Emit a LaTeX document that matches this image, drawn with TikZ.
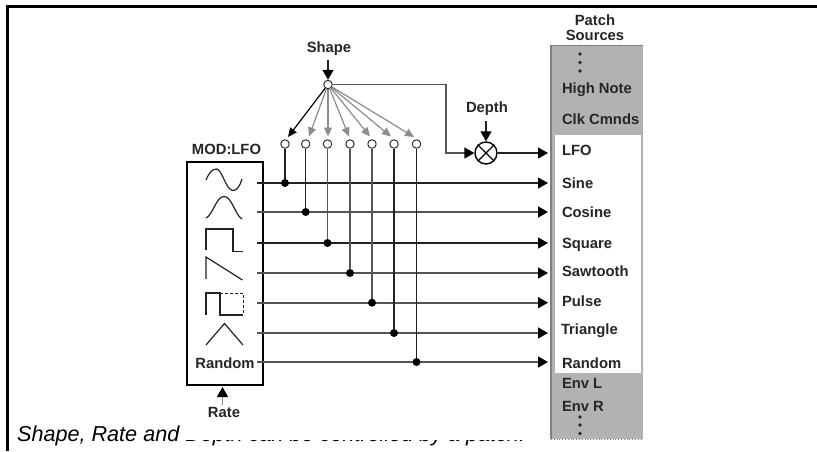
\documentclass[tikz,border=0pt]{standalone}
\usepackage{fontspec}
\setmainfont{Liberation Sans}
\usetikzlibrary{arrows.meta}
\definecolor{panelgray}{HTML}{B2B2B2}
\definecolor{edgegray}{HTML}{808080}
\definecolor{wiredark}{HTML}{222222}
\definecolor{wiremid}{HTML}{555555}
\definecolor{fangray}{HTML}{8C8C8C}
\tikzset{
  lab/.style={font=\bfseries\fontsize{14.8}{17}\selectfont,text=black!85,inner sep=0pt,outer sep=0pt},
  src/.style={lab,anchor=base west},
  tap/.style={circle,draw=wiredark,fill=white,line width=0.9pt,minimum size=8.5pt,inner sep=0pt},
  junction/.style={circle,fill=black,minimum size=8pt,inner sep=0pt},
  wire/.style={line width=1.3pt,draw=wiredark},
  wiregray/.style={line width=1.7pt,draw=wiremid},
  head/.style={-{Triangle[length=10pt,width=11pt,color=black]}},
  fanblack/.style={line width=1.2pt,draw=black,-{Triangle[length=9pt,width=8pt]}},
  fangr/.style={line width=1.2pt,draw=fangray,-{Triangle[length=9pt,width=8pt,color=fangray]}},
  wave/.style={line width=1.2pt,draw=wiredark,line join=miter},
  vdot/.style={circle,fill=black!85,minimum size=3.8pt,inner sep=0pt},
}
\begin{document}
\begin{tikzpicture}[x=1pt,y=-1pt]
\useasboundingbox (0,0) rectangle (817,451);
% frame
\coordinate (fa) at (7.5,451); \coordinate (fb) at (7.5,6.5); \coordinate (fc) at (817,6.5);
\draw[line width=3pt,black,line join=miter] (fa) -- (fb) -- (fc);
% caption, partly covered by the picture above it
\node[anchor=base west,inner sep=0pt,font=\itshape\fontsize{21.6}{24}\selectfont,text=black] (caption) at (17,441.8) {Shape, Rate and Depth can be controlled by a patch.};
\fill[white] (183,380) rectangle (551,439.5);
% panel
\fill[panelgray] (551,45.5) rectangle (643,439);
\fill[white] (554.5,135) rectangle (641,373);
\draw[edgegray,line width=1.4pt] (551,439) -- (551,45.5) -- (643,45.5);
\draw[edgegray,line width=.8pt,dotted] (551,439) -- (643,439);
\node[lab] (patch1) at (595,20) {Patch};
\node[lab] (patch2) at (595,35) {Sources};
\node[vdot] (d1) at (580,54) {}; \node[vdot] (d2) at (580,62.5) {}; \node[vdot] (d3) at (580,71) {};
\node[src] (highnote) at (562,93) {High Note};
\node[src] (clk) at (562,124) {Clk Cmnds};
\node[src] (slfo) at (562,155) {LFO};
\node[src] (ssine) at (562,188) {Sine};
\node[src] (scos) at (562,217) {Cosine};
\node[src] (ssq) at (562,248) {Square};
\node[src] (ssaw) at (562,276) {Sawtooth};
\node[src] (spul) at (562,306) {Pulse};
\node[src] (stri) at (561,334) {Triangle};
\node[src] (sran) at (562,368) {Random};
\node[src] (envl) at (562,388) {Env L};
\node[src] (envr) at (562,411) {Env R};
\node[vdot] (d4) at (580,417) {}; \node[vdot] (d5) at (580,425) {}; \node[vdot] (d6) at (580,433.5) {};
% LFO box
\node[lab] (modlfo) at (226.5,149) {MOD:LFO};
\node[draw=black,line width=2pt,minimum width=76pt,minimum height=223pt,inner sep=0pt,anchor=north west] (lfobox) at (186,161) {};
\node[lab] (random) at (225,363) {Random};
% wave icons
\draw[wave] (206,180) .. controls (209,173) and (212,169) .. (216.5,169) .. controls (222,169) and (226,190.5) .. (233,190.5) .. controls (237,190.5) and (240,186) .. (242,179);
\draw[wave] (206,218) .. controls (213,215) and (216,196.5) .. (224,196.5) .. controls (232,196.5) and (235,215) .. (242,219);
\draw[wave] (206,249.5) -- (206,229) -- (233,229) -- (233,251.5) -- (243,251.5);
\draw[wave] (206,279) -- (206,257) -- (242.5,280);
\draw[wave] (206,314.5) -- (206,293) -- (220,293) -- (220,315) -- (243,315);
\draw[line width=1pt,draw=wiredark,densely dashed] (220,293) -- (243,293) -- (243,315);
\draw[wave] (206,345) -- (224.5,323.5) -- (243,345);
% horizontal wires: start points and end points
\foreach \n/\y in {a/183,b/212,c/243,d/273,e/302.7,f/333,g/362}{
  \coordinate (s\n) at (257,\y);
  \coordinate (t\n) at (548,\y);
}
\draw[wire,head] (sa) -- (ta);
\draw[wiregray,head] (sb) -- (tb);
\draw[wire,head] (sc) -- (tc);
\draw[wiregray,head] (sd) -- (td);
\draw[wiregray,head] (se) -- (te);
\draw[wiregray,head] (sf) -- (tf);
\draw[wiregray,head] (sg) -- (tg);
% taps and junctions
\node[tap] (ta1) at (285,144) {};
\node[tap] (ta2) at (305.7,144) {};
\node[tap] (ta3) at (327.5,144) {};
\node[tap] (ta4) at (350,144) {};
\node[tap] (ta5) at (372,144) {};
\node[tap] (ta6) at (394,144) {};
\node[tap] (ta7) at (416.5,144) {};
\node[junction] (j1) at (285,183) {};
\node[junction] (j2) at (305.7,212) {};
\node[junction] (j3) at (327.5,243) {};
\node[junction] (j4) at (350,273) {};
\node[junction] (j5) at (372,302.7) {};
\node[junction] (j6) at (394,333) {};
\node[junction] (j7) at (416.5,362) {};
\draw[wire] (ta1) -- (j1);
\draw[wire] (ta2) -- (j2);
\draw[wiregray] (ta3) -- (j3);
\draw[wiregray] (ta4) -- (j4);
\draw[wiregray] (ta5) -- (j5);
\draw[wire] (ta6) -- (j6);
\draw[wire] (ta7) -- (j7);
% hub and fan
\node[tap] (hub) at (328,84.5) {};
\node[lab] (shape) at (329,49) {Shape};
\coordinate (shapetop) at (328,60);
\draw[wire,head] (shapetop) -- (hub);
\coordinate (f1) at (288,137); \coordinate (f2) at (309,136.5); \coordinate (f3) at (328,136.5);
\coordinate (f4) at (349,136.5); \coordinate (f5) at (370,136.5); \coordinate (f6) at (391,136.5); \coordinate (f7) at (414,137);
\foreach \i in {2,...,7}{ \draw[fangr] (hub) -- (f\i); }
\draw[fanblack] (hub) -- (f1);
% depth
\node[circle,draw=black,line width=1.4pt,fill=white,minimum size=22pt,inner sep=0pt] (mult) at (486,153) {};
\draw[line width=1.3pt,black] (mult.north west) -- (mult.south east);
\draw[line width=1.3pt,black] (mult.north east) -- (mult.south west);
\node[lab] (depth) at (487,109) {Depth};
\coordinate (depthtop) at (486,121);
\draw[wire,head] (depthtop) -- (mult);
\coordinate (corner) at (446,84.5);
\draw[wiregray,head] (hub.east) -- (corner) |- (mult.west);
\coordinate (lfotip) at (548,153);
\draw[wire,head] (mult) -- (lfotip);
% rate
\node[lab] (rate) at (224,412.5) {Rate};
\coordinate (ratetip) at (222.5,387); \coordinate (ratebot) at (222.5,405);
\draw[line width=1pt,draw=fangray,-{Triangle[length=10pt,width=11pt,color=black]}] (ratebot) -- (ratetip);
\end{tikzpicture}
\end{document}
